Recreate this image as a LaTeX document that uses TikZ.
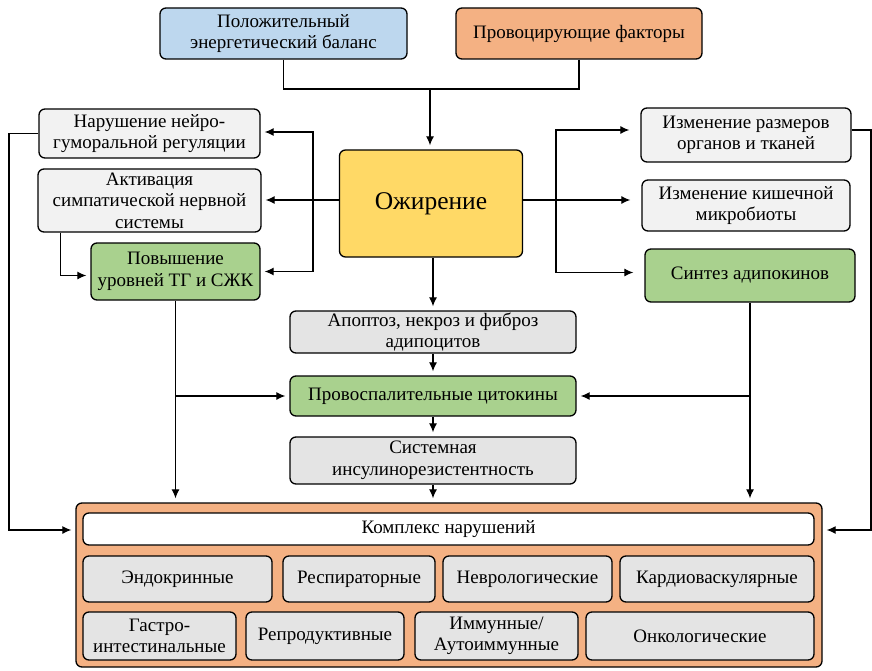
\documentclass[tikz,border=0pt]{standalone}
\usepackage{fontspec}
\setmainfont{Liberation Serif}
\usetikzlibrary{arrows.meta}

\definecolor{balblue}{HTML}{BDD7EE}
\definecolor{facorange}{HTML}{F4B183}
\definecolor{obyellow}{HTML}{FFD966}
\definecolor{lightgray}{HTML}{F2F2F2}
\definecolor{midgray}{HTML}{E4E4E4}
\definecolor{leafgreen}{HTML}{A9D18E}

\tikzset{
    box/.style={draw, line width=1.3pt, rounded corners=6pt, align=center,
        inner sep=1pt, font=\fontsize{19}{21.5}\selectfont},
    greybox/.style={box, fill=lightgray},
    greenbox/.style={box, fill=leafgreen},
    cellbox/.style={box, fill=midgray, minimum height=#1},
    link/.style={line width=1.2pt, -{Latex[length=9pt,width=8pt]}, shorten >=4pt},
    wire/.style={line width=1.2pt}
}

\begin{document}
\begin{tikzpicture}[x=1pt,y=-1pt]

    % Rahmen
    \useasboundingbox (0,0) rectangle (872,671);

    % Oben
    \node[box, fill=balblue, minimum width=247, minimum height=51] (bal) at (283.5,33.5)
        {Положительный\\энергетический баланс};
    \node[box, fill=facorange, minimum width=246, minimum height=51] (fac) at (579,33.5)
        {Провоцирующие факторы};
    \node[box, fill=obyellow, minimum width=183, minimum height=107,
        font=\fontsize{25.5}{28}\selectfont] (obes) at (431,203.5) {Ожирение};

    % Links
    \node[greybox, minimum width=221, minimum height=49] (neuro) at (149.5,133.5)
        {Нарушение нейро-\\гуморальной регуляции};
    \node[greybox, minimum width=223, minimum height=63, inner sep=0pt] (symp) at (149.5,200.5)
        {Активация\\симпатической нервной\\системы};
    \node[greenbox, minimum width=169, minimum height=57] (tg) at (175.5,271.5)
        {Повышение\\уровней ТГ и СЖК};

    % Rechts
    \node[greybox, minimum width=210, minimum height=54] (organ) at (746,135)
        {Изменение размеров\\органов и тканей};
    \node[greybox, minimum width=208, minimum height=51] (micro) at (746,205.5)
        {Изменение кишечной\\микробиоты};
    \node[greenbox, minimum width=210, minimum height=53] (adipo) at (750,275.5)
        {Синтез адипокинов};

    % Midden
    \node[greybox, fill=midgray, minimum width=286, minimum height=42] (apopt) at (433,332)
        {Апоптоз, некроз и фиброз\\адипоцитов};
    \node[greenbox, minimum width=286, minimum height=40] (cyto) at (433,396)
        {Провоспалительные цитокины};
    \node[greybox, fill=midgray, minimum width=286, minimum height=47] (insul) at (433,460.5)
        {Системная\\инсулинорезистентность};

    % Komplex
    \node[box, fill=facorange, minimum width=746, minimum height=164] (cmplx) at (449,585) {};
    \node[box, fill=white, minimum width=731, minimum height=32] (head) at (448.5,529)
        {Комплекс нарушений};
    \node[cellbox=46, minimum width=189] (endo) at (177.5,579) {Эндокринные};
    \node[cellbox=46, minimum width=152] (resp) at (359,579) {Респираторные};
    \node[cellbox=46, minimum width=169] (neur) at (527.5,579) {Неврологические};
    \node[cellbox=46, minimum width=194] (card) at (717,579) {Кардиоваскулярные};
    \node[cellbox=48, minimum width=153] (gast) at (159.5,636) {Гастро-\\интестинальные};
    \node[cellbox=48, minimum width=158] (repr) at (325,636) {Репродуктивные};
    \node[cellbox=48, minimum width=163] (immu) at (496.5,636) {Иммунные/\\Аутоиммунные};
    \node[cellbox=48, minimum width=228] (onco) at (700,636) {Онкологические};

    % Hilfspunkte
    \coordinate (join) at (430,89);
    \coordinate (lbus) at (313,200);
    \coordinate (rbus) at (556,200);
    \coordinate (lrail) at (9,530);
    \coordinate (rrail) at (871,530);

    % Verbindungen oben
    \draw[wire] (bal.south) |- (join);
    \draw[wire] (fac.south) |- (join);
    \draw[link] (join) -- (join |- obes.north);

    % Verbindungen links
    \draw[link] (obes.west |- lbus) -- (lbus -| symp.east);
    \draw[link] (lbus) |- ([yshift=1.5pt]neuro.east);
    \draw[link] (lbus) |- (tg.east);
    \draw[link] ([xshift=23pt]symp.south west) |- ([yshift=-4pt]tg.west);
    \draw[link] (neuro.west) -| (lrail) -- (lrail -| cmplx.west);

    % Verbindungen rechts
    \draw[link, shorten >=11pt] (obes.east |- rbus) -- (rbus -| micro.west);
    \draw[link, shorten >=11pt] (rbus) |- ([yshift=5pt]organ.west);
    \draw[link, shorten >=11pt] (rbus) |- ([yshift=3pt]adipo.west);
    \draw[link] ([yshift=5pt]organ.east) -| (rrail) -- (rrail -| cmplx.east);

    % Verbindungen Mitte
    \draw[link] (obes.south -| apopt.north) -- (apopt.north);
    \draw[link] (apopt) -- (cyto);
    \draw[link] (cyto) -- (insul);
    \draw[link] (insul.south) -- (insul.south |- cmplx.north);
    \draw[link] (tg.south) -- (tg.south |- cmplx.north);
    \draw[link] (tg.south |- cyto.west) -- (cyto.west);
    \draw[link] (adipo.south) -- (adipo.south |- cmplx.north);
    \draw[link] (adipo.south |- cyto.east) -- (cyto.east);

\end{tikzpicture}
\end{document}
